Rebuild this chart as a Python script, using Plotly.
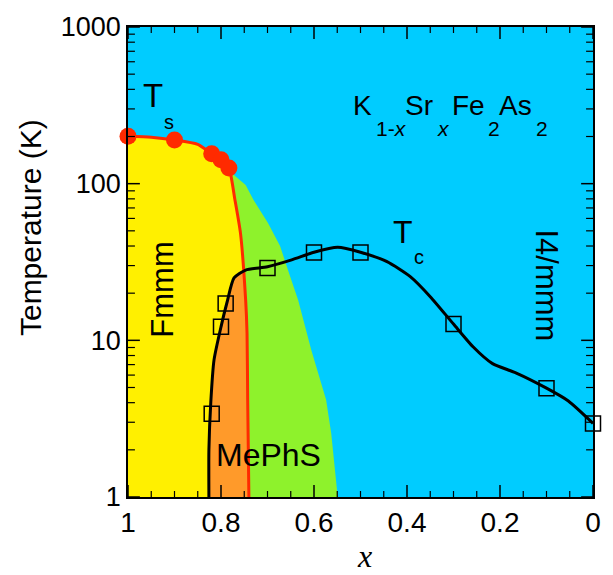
import math
import plotly.graph_objects as go

# ---------------- data ----------------
# Ts (structural transition) measured points
ts_x = [1.0, 0.9, 0.82, 0.80, 0.783]
ts_T = [201, 190, 155, 142, 126]
# Ts phase boundary line (red)
ts_line_x = [1.0, 0.95, 0.9, 0.85, 0.82, 0.80, 0.783, 0.770, 0.758, 0.747, 0.744, 0.7426, 0.740]
ts_line_T = [201, 198, 190, 178, 155, 142, 126, 78.7, 48, 18.1, 11.1, 4.17, 1.0]

# Tc measured points
tc_x = [0.82, 0.80, 0.79, 0.70, 0.60, 0.50, 0.30, 0.10, 0.0]
tc_T = [3.4, 12.2, 17.2, 29, 36.3, 36.3, 12.7, 4.95, 2.95]
# Tc line (black)
tc_line_x = [0.826, 0.826, 0.822, 0.815, 0.80, 0.787, 0.772, 0.747, 0.70, 0.648, 0.60,
             0.549, 0.50, 0.443, 0.393, 0.350, 0.30, 0.258, 0.216, 0.166, 0.10, 0.053, 0.0]
tc_line_T = [1.0, 2.0, 4.0, 7.5, 12.2, 17.5, 25, 28.1, 29.5, 32.6, 36.5,
             39.3, 36.5, 31.8, 25.5, 19.0, 12.7, 9.1, 7.1, 6.2, 4.95, 4.1, 2.95]

# green (intermediate) phase outer boundary
green_x = [0.783, 0.776, 0.747, 0.730, 0.699, 0.673, 0.654, 0.634, 0.606, 0.574, 0.563, 0.549]
green_T = [126, 116, 98, 78.7, 56, 40, 27, 18, 8.7, 4.17, 2.55, 1.0]

# intersection of Tc line and Ts line
cross_x, cross_T = 0.752, 27.8

# axes / ticks
X_RANGE = [1, 0]
Y_RANGE_LOG = [0, 3]
x_major = [0, 0.2, 0.4, 0.6, 0.8, 1.0]
x_minor = [0.05, 0.1, 0.15, 0.25, 0.3, 0.35, 0.45, 0.5, 0.55, 0.65, 0.7, 0.75, 0.85, 0.9, 0.95]
x_ticktext = ["0", "0.2", "0.4", "0.6", "0.8", "1"]
y_major = [1, 10, 100, 1000]
y_minor = [2, 3, 4, 5, 6, 7, 8, 9, 20, 30, 40, 50, 60, 70, 80, 90,
           200, 300, 400, 500, 600, 700, 800, 900]
y_ticktext = ["1", "10", "100", "1000"]

BLUE = "#00CCFF"
YELLOW = "#FFF000"
GREEN = "#8EF22C"
ORANGE = "#FF9A2A"
RED = "#FF2A00"
FONT = "Liberation Sans, Arial, sans-serif"

L, R, T, B = 128, 598, 27, 497
W, H = R - L, B - T

fig = go.Figure()

# yellow region (left of red line)
yx = ts_line_x + [1.0]
yT = ts_line_T + [1.0]
fig.add_trace(go.Scatter(x=yx, y=yT, fill="toself", fillcolor=YELLOW, mode="none",
                         hoverinfo="skip", showlegend=False))

# green region (between red line and green boundary)
i0 = ts_line_x.index(0.783)
gx = ts_line_x[i0:] + green_x[::-1]
gT = ts_line_T[i0:] + green_T[::-1]
fig.add_trace(go.Scatter(x=gx, y=gT, fill="toself", fillcolor=GREEN, mode="none",
                         hoverinfo="skip", showlegend=False))

# orange region (under Tc, left of red line)
k = tc_line_x.index(0.772)
j = ts_line_x.index(0.747)
ox = tc_line_x[:k + 1] + [cross_x] + ts_line_x[j:]
oT = tc_line_T[:k + 1] + [cross_T] + ts_line_T[j:]
fig.add_trace(go.Scatter(x=ox, y=oT, fill="toself", fillcolor=ORANGE, mode="none",
                         hoverinfo="skip", showlegend=False))

# red Ts line
fig.add_trace(go.Scatter(x=ts_line_x, y=ts_line_T, mode="lines",
                         line=dict(color=RED, width=3, shape="spline", smoothing=0.6),
                         showlegend=False))
# black Tc line
fig.add_trace(go.Scatter(x=tc_line_x, y=tc_line_T, mode="lines",
                         line=dict(color="black", width=3, shape="spline", smoothing=0.6),
                         showlegend=False))
# Ts markers
fig.add_trace(go.Scatter(x=ts_x, y=ts_T, mode="markers", cliponaxis=False,
                         marker=dict(color=RED, size=17, line=dict(width=0)),
                         showlegend=False))
# Tc markers
fig.add_trace(go.Scatter(x=tc_x, y=tc_T, mode="markers", cliponaxis=False,
                         marker=dict(symbol="square-open", color="black", size=15,
                                     line=dict(width=1.5, color="black")),
                         showlegend=False))

# ---- inward ticks on all four sides as layout shapes ----
shapes = []
for vals, ln, wd in [(x_major, 12, 1.5), (x_minor, 6, 1.2)]:
    h = ln / H
    for v in vals:
        for y0, y1 in [(0, h), (1, 1 - h)]:
            shapes.append(dict(type="line", xref="x", yref="paper", x0=v, x1=v, y0=y0, y1=y1,
                               layer="above", line=dict(color="black", width=wd)))
ylog_span = Y_RANGE_LOG[1] - Y_RANGE_LOG[0]
for vals, ln, wd in [(y_major, 12, 1.5), (y_minor, 7, 1.2)]:
    w = ln / W
    for v in vals:
        yp = (math.log10(v) - Y_RANGE_LOG[0]) / ylog_span
        for x0, x1 in [(0, w), (1, 1 - w)]:
            shapes.append(dict(type="line", xref="paper", yref="paper", x0=x0, x1=x1, y0=yp, y1=yp,
                               layer="above", line=dict(color="black", width=wd)))


def px(X):
    return (X - L) / W


def py(Y):
    return (B - Y) / H


ann = []


def add_text(text, X, Y, size, xanchor="left", yanchor="middle", angle=0, family=FONT):
    ann.append(dict(text=text, x=px(X), y=py(Y), xref="paper", yref="paper",
                    xanchor=xanchor, yanchor=yanchor, showarrow=False, textangle=angle,
                    borderpad=0, font=dict(family=family, size=size, color="black")))


# Ts label
add_text("T", 142, 95, 33)
add_text("s", 163, 122, 20)
# formula
add_text("K", 354, 105, 28)
add_text("1-<i>x</i>", 378, 128, 21)
add_text("Sr", 407, 105, 28)
add_text("<i>x</i>", 439, 128, 21)
add_text("Fe", 454, 105, 28)
add_text("2", 491, 128, 21)
add_text("As", 502, 105, 28)
add_text("2", 539, 128, 21)
# Tc label
add_text("T", 395, 232, 32)
add_text("c", 416, 257, 20)
# phases
add_text("Fmmm", 162, 290, 31, xanchor="center", angle=-90)
add_text("I4/mmm", 551, 285, 31, xanchor="center", angle=90)
add_text("MePhS", 216, 455, 32)
# axis titles
add_text("<i>x</i>", 367, 556, 32, xanchor="center", family="Liberation Serif, Times New Roman, serif")
add_text("Temperature (K)", 29, 228, 30, xanchor="center", angle=-90)

fig.update_layout(
    width=613, height=575,
    margin=dict(l=L, r=613 - R, t=T, b=575 - B),
    paper_bgcolor="white", plot_bgcolor=BLUE,
    annotations=ann, shapes=shapes,
    showlegend=False,
)
fig.update_xaxes(range=X_RANGE, autorange=False, tickmode="array", tickvals=x_major,
                 ticktext=x_ticktext, ticks="",
                 showline=True, linecolor="black", linewidth=1.5, mirror=True,
                 showgrid=False, zeroline=False,
                 tickfont=dict(family=FONT, size=28, color="black"))
fig.update_yaxes(type="log", range=Y_RANGE_LOG, autorange=False, tickmode="array", tickvals=y_major,
                 ticktext=y_ticktext, ticks="",
                 showline=True, linecolor="black", linewidth=1.5, mirror=True,
                 showgrid=False, zeroline=False,
                 tickfont=dict(family=FONT, size=27, color="black"))

fig.write_html("out.html")
